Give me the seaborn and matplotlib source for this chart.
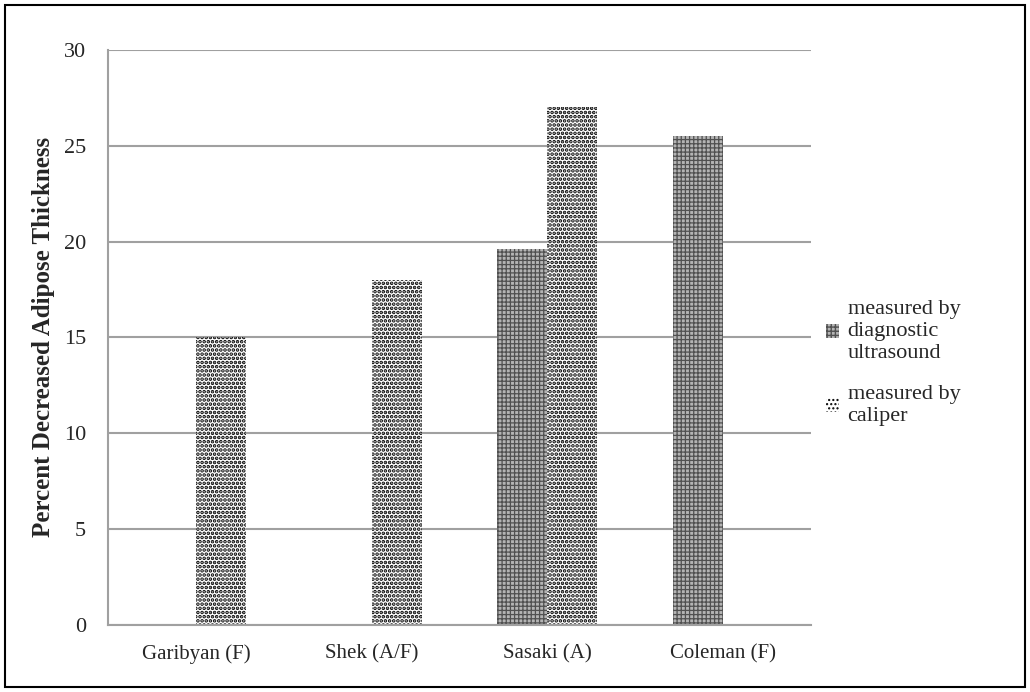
import matplotlib
matplotlib.use("Agg")
import matplotlib.pyplot as plt
import seaborn as sns
import numpy as np
import pandas as pd
from matplotlib.patches import Patch, Rectangle

# data
studies = ["Garibyan (F)", "Shek (A/F)", "Sasaki (A)", "Coleman (F)"]
ultrasound = [np.nan, np.nan, 19.6, 25.5]
caliper = [15, 18, 27, np.nan]
series = ["measured by\ndiagnostic\nultrasound", "measured by\ncaliper"]

df = pd.DataFrame({
    "study": studies * 2,
    "value": ultrasound + caliper,
    "method": [series[0]] * 4 + [series[1]] * 4,
})

sns.set_style("white")
plt.rcParams["font.family"] = ["Liberation Serif", "DejaVu Serif"]

fig = plt.figure(figsize=(10.3, 6.92), dpi=100)
ax = fig.add_axes([0.105, 0.097, 0.682, 0.831])

grid_c = "#a0a0a0"
sns.barplot(data=df, x="study", y="value", hue="method", order=studies,
            hue_order=series, width=0.57, gap=0, legend=False, ax=ax,
            edgecolor="none", linewidth=0)

styles = [
    dict(facecolor="#b4b4b4", hatch="++++", edgecolor="#505050", hlw=0.9),
    dict(facecolor="white", hatch="....", edgecolor="black", hlw=1.8),
]
for cont, st in zip(ax.containers, styles):
    for bar in cont:
        bar.set_facecolor(st["facecolor"])
        bar.set_hatch(st["hatch"])
        bar.set_edgecolor(st["edgecolor"])
        bar.set_hatch_linewidth(st["hlw"])
        bar.set_linewidth(0)

ax.set_ylim(0, 30)
ax.set_yticks(range(0, 31, 5))
ax.set_xlim(-0.5, 3.5)
ax.set_xticks([-0.5, 0.5, 1.5, 2.5, 3.5], minor=False)
ax.set_xticklabels([])
ax.set_xticks(range(4), minor=True)
ax.set_xticklabels(studies, minor=True)
ax.tick_params(axis="x", which="minor", length=0, pad=14, labelsize=15)
ax.tick_params(axis="x", which="major", length=8, width=1.5, color=grid_c,
               direction="out")
ax.tick_params(axis="y", length=8, width=1.5, color=grid_c, direction="out",
               labelsize=16, pad=8)
ax.yaxis.grid(True, color=grid_c, linewidth=1.5)
ax.set_axisbelow(True)
for s in ["top", "right"]:
    ax.spines[s].set_visible(False)
for s in ["left", "bottom"]:
    ax.spines[s].set_color(grid_c)
    ax.spines[s].set_linewidth(1.5)

ax.set_xlabel("")
ax.set_ylabel("Percent Decreased Adipose Thickness", fontsize=18,
              fontweight="bold", labelpad=6)

handles = []
for st in styles:
    p = Patch(facecolor=st["facecolor"], hatch=st["hatch"],
              edgecolor=st["edgecolor"], linewidth=0)
    p.set_hatch_linewidth(st["hlw"])
    handles.append(p)
fig.legend(handles, series, loc="center left", bbox_to_anchor=(0.783, 0.475),
           frameon=False, fontsize=16, handlelength=0.55, handleheight=0.55,
           handletextpad=0.4, labelspacing=1.0)

fig.patches.append(Rectangle((0.005, 0.007), 0.99, 0.986, transform=fig.transFigure,
                             fill=False, edgecolor="black", linewidth=1.5))

fig.savefig("out.png", dpi=100)
